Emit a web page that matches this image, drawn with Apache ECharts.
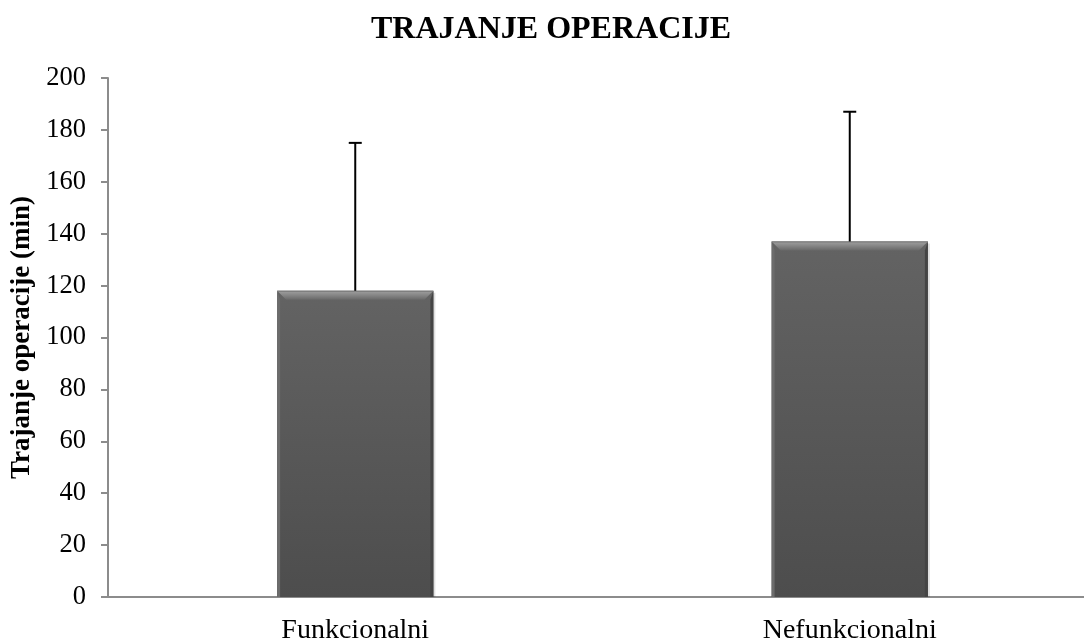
<!DOCTYPE html>
<html>
<head>
<meta charset="utf-8">
<style>
  html, body { margin: 0; padding: 0; background: #fff; }
  #chart { width: 1084px; height: 639px; }
</style>
<script src="https://cdn.jsdelivr.net/npm/echarts@6/dist/echarts.min.js"></script>
</head>
<body>
<div id="chart"></div>
<script>
// Mean operation duration (min) per group, with upper standard deviation
const categories = ['Funkcionalni', 'Nefunkcionalni'];
const meanValues = [118, 137];
const sdValues = [57, 50];
const yTicks = { min: 0, max: 200, interval: 20 };

const FONT = '"Liberation Serif", "Times New Roman", serif';

const chart = echarts.init(document.getElementById('chart'), null, { renderer: 'canvas' });

// Bar with a bevelled top edge, drawn from the axis coordinates
function renderBevelBar(params, api) {
  const idx = api.value(0);
  const val = api.value(1);
  const top = api.coord([idx, val]);
  const base = api.coord([idx, 0]);
  const band = api.size([1, 0])[0];
  const w = band * 0.316;
  const x0 = top[0] - w / 2, x1 = top[0] + w / 2;
  const y0 = top[1], y1 = base[1];
  const b = 9;
  const s = 3;
  return {
    type: 'group',
    children: [
      { // soft shadow to the right
        type: 'rect',
        shape: { x: x0 + 2, y: y0 + 2, width: w, height: y1 - y0 - 2 },
        style: { fill: 'rgba(0,0,0,0.12)' }
      },
      { // face
        type: 'rect',
        shape: { x: x0, y: y0, width: w, height: y1 - y0 },
        style: {
          fill: new echarts.graphic.LinearGradient(0, 0, 0, 1, [
            { offset: 0, color: '#636363' },
            { offset: 1, color: '#4d4d4d' }
          ])
        }
      },
      { // left edge
        type: 'polygon',
        shape: { points: [[x0, y0], [x0 + s, y0 + b], [x0 + s, y1], [x0, y1]] },
        style: { fill: '#6c6c6c' }
      },
      { // right edge
        type: 'polygon',
        shape: { points: [[x1, y0], [x1 - s, y0 + b], [x1 - s, y1], [x1, y1]] },
        style: { fill: '#444444' }
      },
      { // top bevel
        type: 'polygon',
        shape: { points: [[x0, y0], [x1, y0], [x1 - b, y0 + b], [x0 + b, y0 + b]] },
        style: {
          fill: new echarts.graphic.LinearGradient(0, 0, 0, 1, [
            { offset: 0, color: '#a0a0a0' },
            { offset: 0.45, color: '#888888' },
            { offset: 1, color: '#686868' }
          ])
        }
      },
      { // top outline
        type: 'line',
        shape: { x1: x0, y1: y0 + 0.5, x2: x1, y2: y0 + 0.5 },
        style: { stroke: '#777777', lineWidth: 1 }
      }
    ]
  };
}

// Upper error bar with a short cap
function renderErrorBar(params, api) {
  const idx = api.value(0);
  const mean = api.value(1);
  const upper = api.value(2);
  const p0 = api.coord([idx, mean]);
  const p1 = api.coord([idx, upper]);
  const cap = 6.5;
  return {
    type: 'group',
    children: [
      {
        type: 'line',
        shape: { x1: p0[0], y1: p0[1], x2: p1[0], y2: p1[1] },
        style: { stroke: '#000', lineWidth: 2 }
      },
      {
        type: 'line',
        shape: { x1: p1[0] - cap, y1: p1[1], x2: p1[0] + cap, y2: p1[1] },
        style: { stroke: '#000', lineWidth: 2 }
      }
    ]
  };
}

const barData = categories.map((c, i) => [i, meanValues[i]]);
const errData = categories.map((c, i) => [i, meanValues[i], meanValues[i] + sdValues[i]]);

chart.setOption({
  animation: false,
  backgroundColor: '#ffffff',
  title: {
    text: 'TRAJANJE OPERACIJE',
    left: 366,
    top: 9,
    textStyle: { fontFamily: FONT, fontWeight: 'bold', fontSize: 32, color: '#000' }
  },
  grid: {
    left: 108, top: 78, right: -13, bottom: 42,
    containLabel: false,
    outerBoundsMode: 'none'
  },
  xAxis: {
    type: 'category',
    data: categories,
    axisLine: { show: true, lineStyle: { color: '#8c8c8c', width: 2 } },
    axisTick: { show: false },
    axisLabel: { fontFamily: FONT, fontSize: 28, color: '#000', margin: 20 },
    splitLine: { show: false }
  },
  yAxis: {
    type: 'value',
    min: yTicks.min,
    max: yTicks.max,
    interval: yTicks.interval,
    name: 'Trajanje operacije (min)',
    nameLocation: 'middle',
    nameGap: 65,
    nameTextStyle: { fontFamily: FONT, fontWeight: 'bold', fontSize: 27, color: '#000' },
    axisLine: { show: true, lineStyle: { color: '#8c8c8c', width: 2 } },
    axisTick: { show: true, length: 7, lineStyle: { color: '#8c8c8c', width: 2 } },
    axisLabel: { fontFamily: FONT, fontSize: 26.5, color: '#000', margin: 22 },
    splitLine: { show: false }
  },
  series: [
    {
      type: 'custom',
      renderItem: renderBevelBar,
      encode: { x: 0, y: 1 },
      data: barData,
      z: 2
    },
    {
      type: 'custom',
      renderItem: renderErrorBar,
      encode: { x: 0, y: [1, 2] },
      data: errData,
      z: 3
    }
  ]
});
</script>
</body>
</html>
